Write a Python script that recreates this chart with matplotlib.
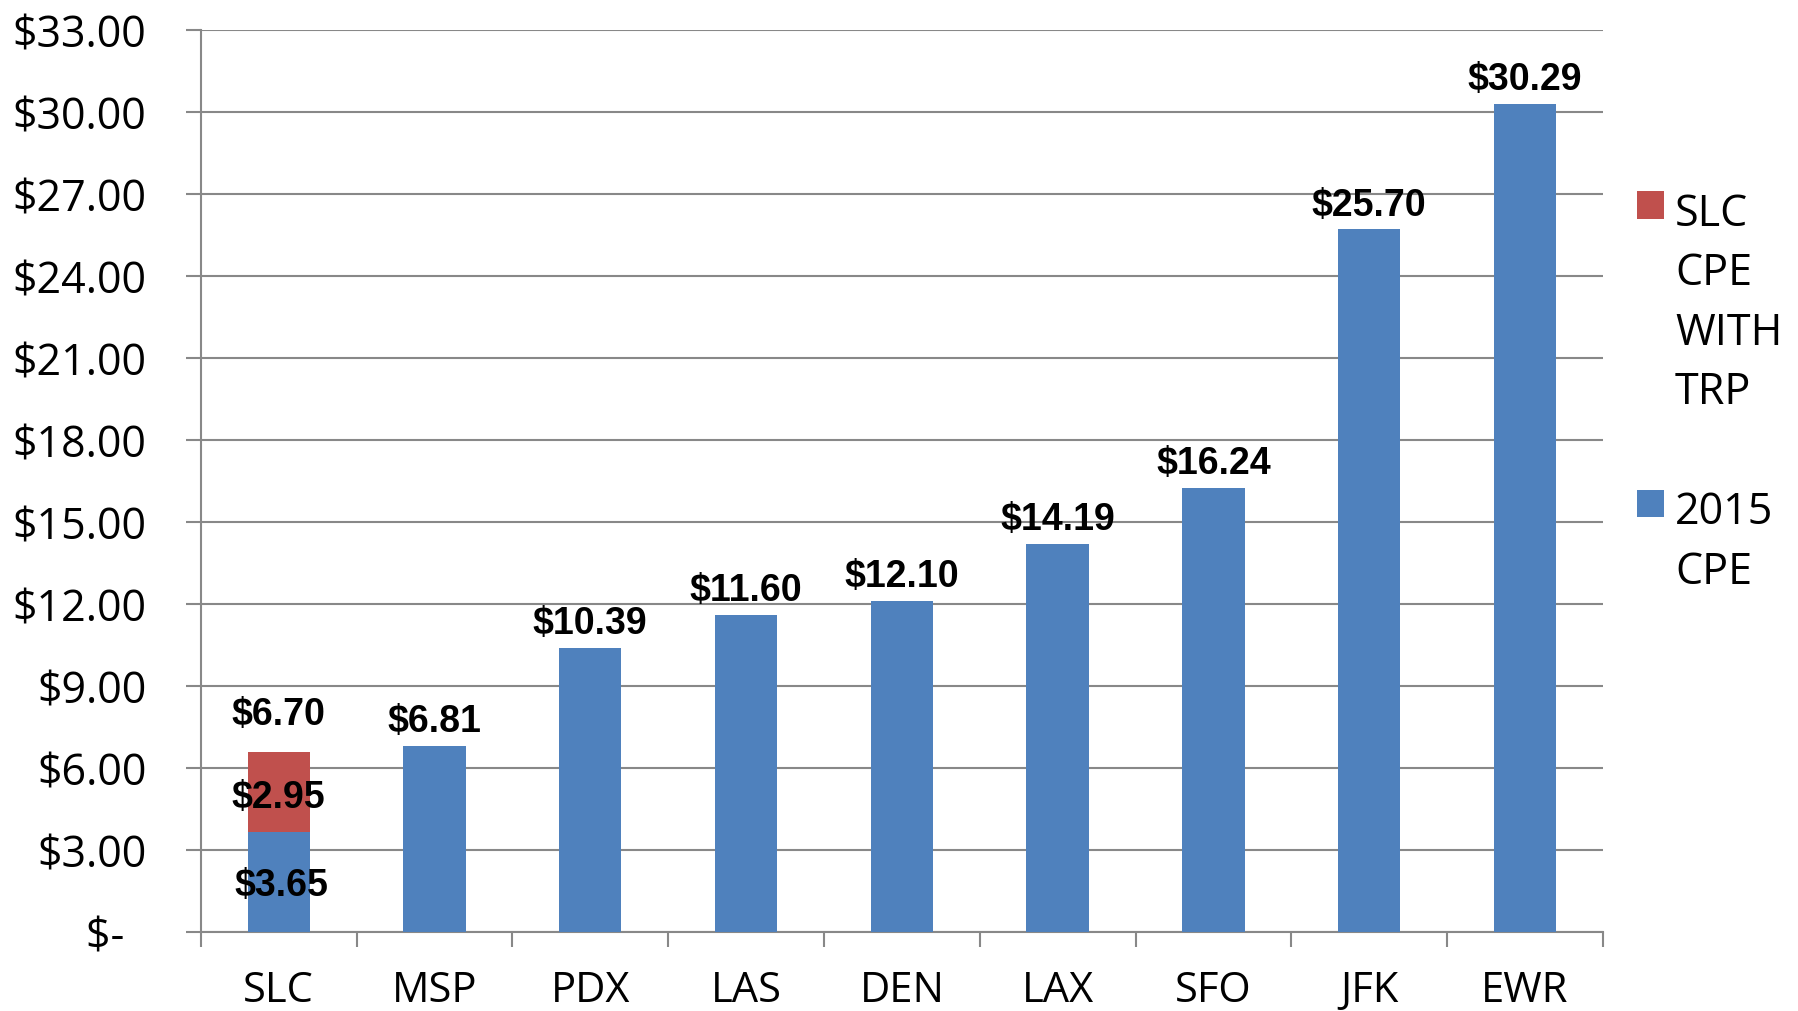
import matplotlib.pyplot as plt
from matplotlib.ticker import FuncFormatter, FixedLocator

# data
airports = ['SLC', 'MSP', 'PDX', 'LAS', 'DEN', 'LAX', 'SFO', 'JFK', 'EWR']
cpe_2015 = [3.65, 6.81, 10.39, 11.60, 12.10, 14.19, 16.24, 25.70, 30.29]
slc_trp = [2.95, 0, 0, 0, 0, 0, 0, 0, 0]
slc_total_label = 6.70
y_ticks = [0, 3, 6, 9, 12, 15, 18, 21, 24, 27, 30, 33]

blue = '#4F81BD'
red = '#C0504D'
grid_col = '#888888'

plt.rcParams['font.family'] = ['Open Sans', 'DejaVu Sans']

fig = plt.figure(figsize=(17.99, 10.12), dpi=100)
ax = fig.add_axes([0.1116, 0.0781, 0.7794, 0.8913])

x = list(range(len(airports)))
b1 = ax.bar(x, cpe_2015, width=0.4, color=blue, label='2015\nCPE', zorder=3)
b2 = ax.bar(x[:1], slc_trp[:1], width=0.4, bottom=cpe_2015[:1], color=red,
            label='SLC\nCPE\nWITH\nTRP', zorder=3)

ax.set_xlim(-0.5, len(airports) - 0.5)
ax.set_ylim(0, 33)

# data labels
lab_font = dict(family='Liberation Sans', fontsize=27, fontweight='bold', color='black')
for i, v in enumerate(cpe_2015):
    if i == 0:
        ax.annotate(f'${v:.2f}', (i, v / 2), xytext=(2, -2), textcoords='offset points',
                    ha='center', va='center', zorder=5, **lab_font)
    else:
        ax.annotate(f'${v:.2f}', (i, v), xytext=(0, 5), textcoords='offset points',
                    ha='center', va='bottom', zorder=5, **lab_font)
ax.annotate(f'${slc_trp[0]:.2f}', (0, cpe_2015[0] + slc_trp[0] / 2), xytext=(0, -4),
            textcoords='offset points', ha='center', va='center', zorder=5, **lab_font)
ax.annotate(f'${slc_total_label:.2f}', (0, cpe_2015[0] + slc_trp[0]), xytext=(0, 14),
            textcoords='offset points', ha='center', va='bottom', zorder=5, **lab_font)

# axes styling
ax.yaxis.set_major_locator(FixedLocator(y_ticks))
ax.yaxis.set_major_formatter(FuncFormatter(lambda v, p: '$-  ' if v == 0 else f'${v:.2f}'))
ax.grid(axis='y', color=grid_col, linewidth=1.5, zorder=0)
for s in ['top', 'right']:
    ax.spines[s].set_visible(False)
for s in ['left', 'bottom']:
    ax.spines[s].set_color(grid_col)
    ax.spines[s].set_linewidth(1.5)

ax.tick_params(axis='y', direction='out', length=11, width=1.5, color=grid_col,
               labelsize=31, pad=28)
ax.set_xticks(x)
ax.set_xticklabels(airports)
ax.set_xticks([i - 0.5 for i in range(len(airports) + 1)], minor=True)
ax.tick_params(axis='x', which='major', length=0, labelsize=30, pad=27)
ax.tick_params(axis='x', which='minor', direction='out', length=11, width=1.5, color=grid_col)

# legend, red entry first
leg = ax.legend([b2, b1], ['SLC\nCPE\nWITH\nTRP', '2015\nCPE'], loc='upper left',
                bbox_to_anchor=(1637 / 1799, 1 - 192 / 1012), bbox_transform=fig.transFigure,
                frameon=False, fontsize=31, borderpad=0, borderaxespad=0,
                handlelength=0.62, handleheight=0.62, handletextpad=0.26, labelspacing=1.75)
for t in leg.get_texts():
    t.set_linespacing(1.45)
for col in leg._legend_handle_box.get_children():
    for item in col.get_children():
        item.align = 'top'

fig.savefig('out.png', dpi=100)
